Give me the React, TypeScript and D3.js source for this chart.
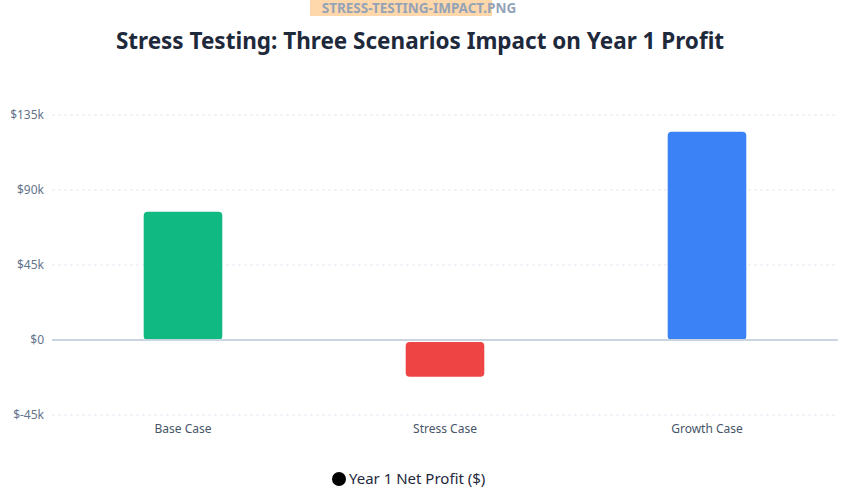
import React, { useEffect, useRef } from 'react';
import * as d3 from 'd3';

// Year 1 net profit by scenario
const scenarios = ['Base Case', 'Stress Case', 'Growth Case'];
const profits = [77000, -22000, 125000];
const barColors = ['#10b981', '#ef4444', '#3b82f6'];
const yTicks = [-45000, 0, 45000, 90000, 135000];

const W = 848;
const H = 494;

const fmtMoney = (d: number) => (d === 0 ? '$0' : `$${d / 1000}k`);

const App = () => {
  const svgRef = useRef<SVGSVGElement>(null);

  useEffect(() => {
    const svg = d3.select(svgRef.current);
    svg.selectAll('*').remove();

    const left = 52;
    const right = 838;
    const top = 115;
    const bottom = 415;

    const x = d3.scaleBand<string>()
      .domain(scenarios)
      .range([left, right])
      .paddingInner(0.7)
      .paddingOuter(0.35);

    const y = d3.scaleLinear()
      .domain([-45000, 135000])
      .range([bottom, top]);

    const font = '"Segoe UI", "Noto Sans", sans-serif';

    // file name tag at the very top
    svg.append('rect')
      .attr('x', 310).attr('y', 0)
      .attr('width', 182).attr('height', 16)
      .attr('fill', '#fed7aa');
    svg.append('text')
      .attr('x', 419).attr('y', 13)
      .attr('text-anchor', 'middle')
      .attr('font-family', font)
      .attr('font-weight', 700)
      .attr('font-size', 13.5)
      .attr('fill', '#94a3b8')
      .text('STRESS-TESTING-IMPACT.PNG');

    svg.append('text')
      .attr('x', 420).attr('y', 49)
      .attr('text-anchor', 'middle')
      .attr('font-family', font)
      .attr('font-weight', 700)
      .attr('font-size', 22.5)
      .attr('fill', '#1e293b')
      .text('Stress Testing: Three Scenarios Impact on Year 1 Profit');

    // grid
    svg.append('g')
      .selectAll('line')
      .data(yTicks.filter(d => d !== 0))
      .enter()
      .append('line')
      .attr('x1', left).attr('x2', right)
      .attr('y1', d => y(d)).attr('y2', d => y(d))
      .attr('stroke', '#e2e8f0')
      .attr('stroke-dasharray', '3 3');

    // y tick labels
    svg.append('g')
      .selectAll('text')
      .data(yTicks)
      .enter()
      .append('text')
      .attr('x', 44)
      .attr('y', d => y(d) + 4)
      .attr('text-anchor', 'end')
      .attr('font-family', font)
      .attr('font-size', 12)
      .attr('fill', '#64748b')
      .text(fmtMoney);

    // bars
    const rx = 4;
    svg.append('g')
      .selectAll('path')
      .data(profits)
      .enter()
      .append('path')
      .attr('d', (d, i) => {
        const x0 = x(scenarios[i])!;
        const w = x.bandwidth();
        const y0 = d >= 0 ? y(d) : y(0) + 2;
        const h = Math.abs(y(d) - y(0)) - (d >= 0 ? 0 : 2);
        const p = d3.path();
        p.moveTo(x0 + rx, y0);
        p.lineTo(x0 + w - rx, y0);
        p.arcTo(x0 + w, y0, x0 + w, y0 + rx, rx);
        p.lineTo(x0 + w, y0 + h - rx);
        p.arcTo(x0 + w, y0 + h, x0 + w - rx, y0 + h, rx);
        p.lineTo(x0 + rx, y0 + h);
        p.arcTo(x0, y0 + h, x0, y0 + h - rx, rx);
        p.lineTo(x0, y0 + rx);
        p.arcTo(x0, y0, x0 + rx, y0, rx);
        p.closePath();
        return p.toString();
      })
      .attr('fill', (d, i) => barColors[i]);

    // zero line
    svg.append('line')
      .attr('x1', left).attr('x2', right)
      .attr('y1', y(0)).attr('y2', y(0))
      .attr('stroke', '#cbd5e1')
      .attr('stroke-width', 2);

    // x labels
    svg.append('g')
      .selectAll('text')
      .data(scenarios)
      .enter()
      .append('text')
      .attr('x', d => x(d)! + x.bandwidth() / 2)
      .attr('y', 433)
      .attr('text-anchor', 'middle')
      .attr('font-family', font)
      .attr('font-size', 12)
      .attr('fill', '#475569')
      .text(d => d);

    // legend
    svg.append('circle')
      .attr('cx', 339).attr('cy', 479).attr('r', 7)
      .attr('fill', '#000');
    svg.append('text')
      .attr('x', 349).attr('y', 484)
      .attr('font-family', font)
      .attr('font-size', 15)
      .attr('fill', '#1e293b')
      .text('Year 1 Net Profit ($)');
  }, []);

  return (
    <svg ref={svgRef} width={W} height={H}
      style={{ position: 'absolute', left: 0, top: 0, background: '#fff' }} />
  );
};

export default App;
